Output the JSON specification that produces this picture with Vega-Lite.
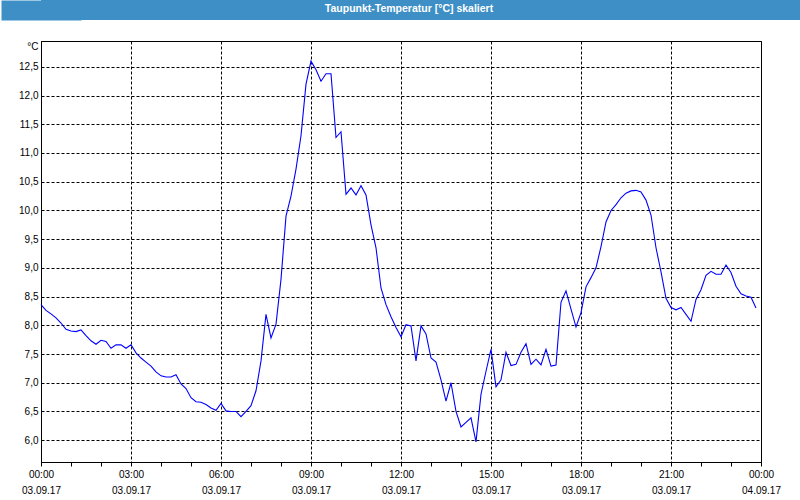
{
  "$schema": "https://vega.github.io/schema/vega-lite/v6.json",
  "padding": 0,
  "spacing": 20,
  "background": "#ffffff",
  "vconcat": [
    {
      "width": 760,
      "height": 20,
      "view": {"fill": "#3d8fc6", "stroke": null},
      "data": {"values": [{"label": "Taupunkt-Temperatur [°C] skaliert", "k": 1}]},
      "mark": {"type": "text", "color": "#ffffff", "font": "Liberation Sans", "fontSize": 10.5, "fontWeight": "bold", "dx": -12, "dy": -1},
      "encoding": {
        "text": {"field": "label", "type": "nominal"},
        "y": {
          "field": "k",
          "type": "quantitative",
          "scale": {"domain": [0, 2], "nice": false},
          "axis": {"title": null, "labels": false, "ticks": false, "grid": false, "domainColor": "#3d8fc6", "domainWidth": 80, "minExtent": 40, "maxExtent": 40}
        }
      }
    },
    {
      "width": 720,
      "height": 421,
      "view": {"fill": "#ffffff", "stroke": "#000000", "strokeWidth": 1},
      "data": {"values": [
        {"t": "2017-09-03T00:00:00Z", "v": 8.36},
        {"t": "2017-09-03T00:10:00Z", "v": 8.26},
        {"t": "2017-09-03T00:20:00Z", "v": 8.2},
        {"t": "2017-09-03T00:30:00Z", "v": 8.13},
        {"t": "2017-09-03T00:40:00Z", "v": 8.04},
        {"t": "2017-09-03T00:50:00Z", "v": 7.93},
        {"t": "2017-09-03T01:00:00Z", "v": 7.9},
        {"t": "2017-09-03T01:10:00Z", "v": 7.89},
        {"t": "2017-09-03T01:20:00Z", "v": 7.92},
        {"t": "2017-09-03T01:30:00Z", "v": 7.82},
        {"t": "2017-09-03T01:40:00Z", "v": 7.73},
        {"t": "2017-09-03T01:50:00Z", "v": 7.67},
        {"t": "2017-09-03T02:00:00Z", "v": 7.74},
        {"t": "2017-09-03T02:10:00Z", "v": 7.72},
        {"t": "2017-09-03T02:20:00Z", "v": 7.6},
        {"t": "2017-09-03T02:30:00Z", "v": 7.66},
        {"t": "2017-09-03T02:40:00Z", "v": 7.66},
        {"t": "2017-09-03T02:50:00Z", "v": 7.6},
        {"t": "2017-09-03T03:00:00Z", "v": 7.66},
        {"t": "2017-09-03T03:10:00Z", "v": 7.52},
        {"t": "2017-09-03T03:20:00Z", "v": 7.43},
        {"t": "2017-09-03T03:30:00Z", "v": 7.36},
        {"t": "2017-09-03T03:40:00Z", "v": 7.29},
        {"t": "2017-09-03T03:50:00Z", "v": 7.19},
        {"t": "2017-09-03T04:00:00Z", "v": 7.12},
        {"t": "2017-09-03T04:10:00Z", "v": 7.1},
        {"t": "2017-09-03T04:20:00Z", "v": 7.1},
        {"t": "2017-09-03T04:30:00Z", "v": 7.14},
        {"t": "2017-09-03T04:40:00Z", "v": 6.98},
        {"t": "2017-09-03T04:50:00Z", "v": 6.9},
        {"t": "2017-09-03T05:00:00Z", "v": 6.74},
        {"t": "2017-09-03T05:10:00Z", "v": 6.67},
        {"t": "2017-09-03T05:20:00Z", "v": 6.66},
        {"t": "2017-09-03T05:30:00Z", "v": 6.62},
        {"t": "2017-09-03T05:40:00Z", "v": 6.56},
        {"t": "2017-09-03T05:50:00Z", "v": 6.52},
        {"t": "2017-09-03T06:00:00Z", "v": 6.64},
        {"t": "2017-09-03T06:10:00Z", "v": 6.51},
        {"t": "2017-09-03T06:20:00Z", "v": 6.5},
        {"t": "2017-09-03T06:30:00Z", "v": 6.5},
        {"t": "2017-09-03T06:40:00Z", "v": 6.41},
        {"t": "2017-09-03T06:50:00Z", "v": 6.5},
        {"t": "2017-09-03T07:00:00Z", "v": 6.6},
        {"t": "2017-09-03T07:10:00Z", "v": 6.86},
        {"t": "2017-09-03T07:20:00Z", "v": 7.38},
        {"t": "2017-09-03T07:30:00Z", "v": 8.19},
        {"t": "2017-09-03T07:40:00Z", "v": 7.78},
        {"t": "2017-09-03T07:50:00Z", "v": 8.02},
        {"t": "2017-09-03T08:00:00Z", "v": 8.8},
        {"t": "2017-09-03T08:10:00Z", "v": 9.9},
        {"t": "2017-09-03T08:20:00Z", "v": 10.25},
        {"t": "2017-09-03T08:30:00Z", "v": 10.72},
        {"t": "2017-09-03T08:40:00Z", "v": 11.3},
        {"t": "2017-09-03T08:50:00Z", "v": 12.2},
        {"t": "2017-09-03T09:00:00Z", "v": 12.6},
        {"t": "2017-09-03T09:10:00Z", "v": 12.45},
        {"t": "2017-09-03T09:20:00Z", "v": 12.25},
        {"t": "2017-09-03T09:30:00Z", "v": 12.38},
        {"t": "2017-09-03T09:40:00Z", "v": 12.38},
        {"t": "2017-09-03T09:50:00Z", "v": 11.27},
        {"t": "2017-09-03T10:00:00Z", "v": 11.37},
        {"t": "2017-09-03T10:10:00Z", "v": 10.28},
        {"t": "2017-09-03T10:20:00Z", "v": 10.39},
        {"t": "2017-09-03T10:30:00Z", "v": 10.27},
        {"t": "2017-09-03T10:40:00Z", "v": 10.43},
        {"t": "2017-09-03T10:50:00Z", "v": 10.27},
        {"t": "2017-09-03T11:00:00Z", "v": 9.75},
        {"t": "2017-09-03T11:10:00Z", "v": 9.35},
        {"t": "2017-09-03T11:20:00Z", "v": 8.65},
        {"t": "2017-09-03T11:30:00Z", "v": 8.36},
        {"t": "2017-09-03T11:40:00Z", "v": 8.15},
        {"t": "2017-09-03T11:50:00Z", "v": 7.96},
        {"t": "2017-09-03T12:00:00Z", "v": 7.8},
        {"t": "2017-09-03T12:10:00Z", "v": 8.01},
        {"t": "2017-09-03T12:20:00Z", "v": 7.99},
        {"t": "2017-09-03T12:30:00Z", "v": 7.38},
        {"t": "2017-09-03T12:40:00Z", "v": 7.99},
        {"t": "2017-09-03T12:50:00Z", "v": 7.85},
        {"t": "2017-09-03T13:00:00Z", "v": 7.43},
        {"t": "2017-09-03T13:10:00Z", "v": 7.36},
        {"t": "2017-09-03T13:20:00Z", "v": 7.05},
        {"t": "2017-09-03T13:30:00Z", "v": 6.68},
        {"t": "2017-09-03T13:40:00Z", "v": 7.0},
        {"t": "2017-09-03T13:50:00Z", "v": 6.5},
        {"t": "2017-09-03T14:00:00Z", "v": 6.23},
        {"t": "2017-09-03T14:10:00Z", "v": 6.31},
        {"t": "2017-09-03T14:20:00Z", "v": 6.39},
        {"t": "2017-09-03T14:30:00Z", "v": 5.97},
        {"t": "2017-09-03T14:40:00Z", "v": 6.8},
        {"t": "2017-09-03T14:50:00Z", "v": 7.2},
        {"t": "2017-09-03T15:00:00Z", "v": 7.58},
        {"t": "2017-09-03T15:10:00Z", "v": 6.93},
        {"t": "2017-09-03T15:20:00Z", "v": 7.05},
        {"t": "2017-09-03T15:30:00Z", "v": 7.53},
        {"t": "2017-09-03T15:40:00Z", "v": 7.3},
        {"t": "2017-09-03T15:50:00Z", "v": 7.32},
        {"t": "2017-09-03T16:00:00Z", "v": 7.53},
        {"t": "2017-09-03T16:10:00Z", "v": 7.68},
        {"t": "2017-09-03T16:20:00Z", "v": 7.32},
        {"t": "2017-09-03T16:30:00Z", "v": 7.41},
        {"t": "2017-09-03T16:40:00Z", "v": 7.31},
        {"t": "2017-09-03T16:50:00Z", "v": 7.58},
        {"t": "2017-09-03T17:00:00Z", "v": 7.29},
        {"t": "2017-09-03T17:10:00Z", "v": 7.31},
        {"t": "2017-09-03T17:20:00Z", "v": 8.4},
        {"t": "2017-09-03T17:30:00Z", "v": 8.6},
        {"t": "2017-09-03T17:40:00Z", "v": 8.28},
        {"t": "2017-09-03T17:50:00Z", "v": 7.97},
        {"t": "2017-09-03T18:00:00Z", "v": 8.22},
        {"t": "2017-09-03T18:10:00Z", "v": 8.67},
        {"t": "2017-09-03T18:20:00Z", "v": 8.83},
        {"t": "2017-09-03T18:30:00Z", "v": 9.0},
        {"t": "2017-09-03T18:40:00Z", "v": 9.37},
        {"t": "2017-09-03T18:50:00Z", "v": 9.8},
        {"t": "2017-09-03T19:00:00Z", "v": 10.0},
        {"t": "2017-09-03T19:10:00Z", "v": 10.1},
        {"t": "2017-09-03T19:20:00Z", "v": 10.22},
        {"t": "2017-09-03T19:30:00Z", "v": 10.3},
        {"t": "2017-09-03T19:40:00Z", "v": 10.34},
        {"t": "2017-09-03T19:50:00Z", "v": 10.35},
        {"t": "2017-09-03T20:00:00Z", "v": 10.32},
        {"t": "2017-09-03T20:10:00Z", "v": 10.18},
        {"t": "2017-09-03T20:20:00Z", "v": 9.92},
        {"t": "2017-09-03T20:30:00Z", "v": 9.35},
        {"t": "2017-09-03T20:40:00Z", "v": 8.93},
        {"t": "2017-09-03T20:50:00Z", "v": 8.47},
        {"t": "2017-09-03T21:00:00Z", "v": 8.31},
        {"t": "2017-09-03T21:10:00Z", "v": 8.27},
        {"t": "2017-09-03T21:20:00Z", "v": 8.31},
        {"t": "2017-09-03T21:30:00Z", "v": 8.19},
        {"t": "2017-09-03T21:40:00Z", "v": 8.07},
        {"t": "2017-09-03T21:50:00Z", "v": 8.45},
        {"t": "2017-09-03T22:00:00Z", "v": 8.62},
        {"t": "2017-09-03T22:10:00Z", "v": 8.87},
        {"t": "2017-09-03T22:20:00Z", "v": 8.94},
        {"t": "2017-09-03T22:30:00Z", "v": 8.89},
        {"t": "2017-09-03T22:40:00Z", "v": 8.89},
        {"t": "2017-09-03T22:50:00Z", "v": 9.05},
        {"t": "2017-09-03T23:00:00Z", "v": 8.92},
        {"t": "2017-09-03T23:10:00Z", "v": 8.68},
        {"t": "2017-09-03T23:20:00Z", "v": 8.55},
        {"t": "2017-09-03T23:30:00Z", "v": 8.51},
        {"t": "2017-09-03T23:40:00Z", "v": 8.49},
        {"t": "2017-09-03T23:50:00Z", "v": 8.3}
      ]},
      "mark": {"type": "line", "color": "#0000ff", "strokeWidth": 1.1},
      "encoding": {
        "x": {
          "field": "t",
          "type": "temporal",
          "scale": {"type": "utc", "domain": [{"year": 2017, "month": 9, "date": 3, "utc": true}, {"year": 2017, "month": 9, "date": 4, "utc": true}], "nice": false},
          "axis": {
            "title": null,
            "labelExpr": "utchours(datum.value) % 3 == 0 ? [utcFormat(datum.value, '%H:%M'), utcFormat(datum.value, '%d.%m.%y')] : ''",
            "labelOverlap": false,
            "labelFlush": false,
            "labelFont": "Liberation Sans",
            "labelFontSize": 10,
            "labelColor": "#000000",
            "labelLineHeight": 16,
            "labelPadding": 3,
            "domainColor": "#000000",
            "tickColor": "#000000",
            "tickSize": 4,
            "grid": true,
            "gridColor": "#000000",
            "gridDash": [3, 2],
            "gridOpacity": {"condition": {"test": "utchours(datum.value) % 3 == 0", "value": 1}, "value": 0}
          }
        },
        "y": {
          "field": "v",
          "type": "quantitative",
          "scale": {"domain": [5.62, 12.95], "nice": false, "zero": false},
          "axis": {
            "title": "°C",
            "titleAngle": 0,
            "titleX": -3,
            "titleY": 5,
            "titleAlign": "right",
            "titleBaseline": "middle",
            "titleFont": "Liberation Sans",
            "titleFontSize": 10,
            "titleFontWeight": "normal",
            "titleColor": "#000000",
            "values": [6, 6.5, 7, 7.5, 8, 8.5, 9, 9.5, 10, 10.5, 11, 11.5, 12, 12.5],
            "labelExpr": "replace(format(datum.value, '.1f'), '.', ',')",
            "labelFont": "Liberation Sans",
            "labelFontSize": 10,
            "labelColor": "#000000",
            "labelPadding": 3,
            "ticks": false,
            "domainColor": "#000000",
            "minExtent": 40,
            "maxExtent": 40,
            "grid": true,
            "gridColor": "#000000",
            "gridDash": [3, 2]
          }
        }
      }
    }
  ]
}
